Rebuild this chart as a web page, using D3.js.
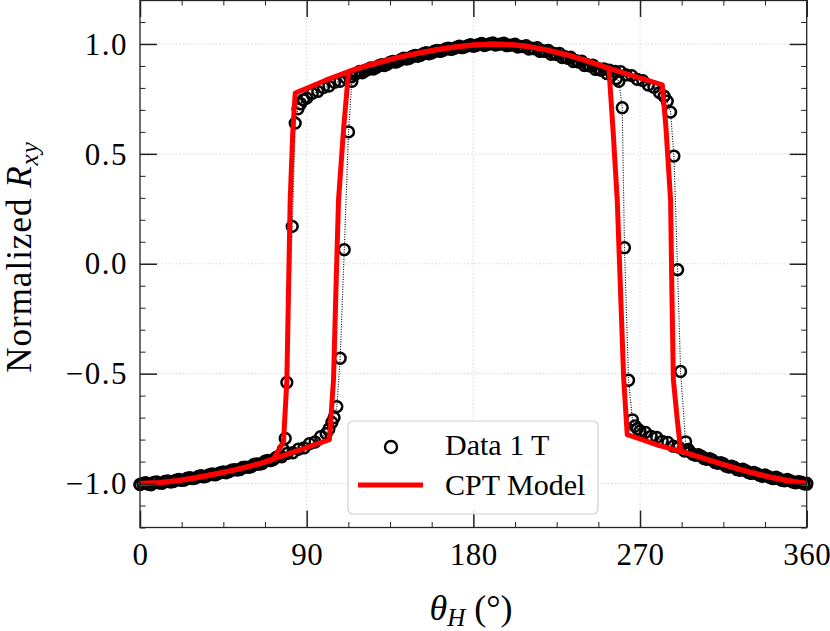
<!DOCTYPE html>
<html>
<head>
<meta charset="utf-8">
<script src="https://cdn.jsdelivr.net/npm/d3@7"></script>
<style>
  html, body { margin: 0; padding: 0; background: #fff; }
  svg text { font-family: "Liberation Serif", "DejaVu Serif", serif; fill: #000; }
</style>
</head>
<body>
<div id="chart"></div>
<script>
// ── Data ──────────────────────────────────────────────────────────────────────
// measured sweep, field angle increasing [theta (deg), normalized Rxy]
const dataUp = [
  [0,-1.004],[3,-0.996],[6,-1.006],[9,-0.993],[12,-0.999],[15,-0.988],[18,-0.991],[21,-0.981],
  [24,-0.984],[27,-0.973],[30,-0.975],[33,-0.964],[36,-0.966],[39,-0.956],[42,-0.956],[45,-0.947],
  [48,-0.946],[51,-0.937],[54,-0.936],[57,-0.925],[60,-0.924],[63,-0.911],[66,-0.909],[69,-0.895],
  [72,-0.891],[75,-0.875],[77.4,-0.845],[78.4,-0.795],[79.3,-0.54],[82.2,0.17],[83.8,0.64],
  [85.3,0.705],[86.7,0.728],[88.2,0.746],[90,0.754],[93,0.775],[96,0.784],[99,0.802],[102,0.808],
  [105,0.825],[108,0.830],[111,0.847],[114,0.850],[117,0.866],[120,0.869],[123,0.884],[126,0.886],
  [129,0.901],[132,0.902],[135,0.916],[138,0.917],[141,0.930],[144,0.931],[147,0.943],[150,0.944],
  [153,0.956],[156,0.955],[159,0.967],[162,0.966],[165,0.977],[168,0.975],[171,0.985],[174,0.983],
  [177,0.992],[180,0.989],[183,0.998],[186,0.993],[189,1.001],[192,0.995],[195,1.000],[198,0.992],
  [201,0.995],[204,0.986],[207,0.988],[210,0.977],[213,0.978],[216,0.966],[219,0.966],[222,0.953],
  [225,0.952],[228,0.938],[231,0.935],[234,0.920],[237,0.917],[240,0.902],[243,0.899],[246,0.884],
  [249,0.880],[252,0.865],[255,0.858],[257.2,0.842],[258.6,0.83],[260.4,0.71],[261.6,0.073],
  [263.8,-0.53],[265.9,-0.71],[267.3,-0.738],[268.6,-0.750],[270,-0.761],[273,-0.767],[276,-0.785],
  [279,-0.790],[282,-0.808],[285,-0.813],[288,-0.830],[291,-0.835],[294,-0.852],[297,-0.856],
  [300,-0.872],[303,-0.875],[306,-0.890],[309,-0.893],[312,-0.908],[315,-0.910],[318,-0.925],
  [321,-0.927],[324,-0.940],[327,-0.941],[330,-0.954],[333,-0.955],[336,-0.967],[339,-0.967],
  [342,-0.978],[345,-0.978],[348,-0.988],[351,-0.987],[354,-0.997],[357,-0.994],[360,-1.003]
];

// measured sweep, field angle decreasing
const dataDown = [
  [360,-0.998],[358.5,-1.001],[355.5,-0.991],[352.5,-0.993],[349.5,-0.981],[346.5,-0.985],
  [343.5,-0.971],[340.5,-0.974],[337.5,-0.961],[334.5,-0.962],[331.5,-0.949],[328.5,-0.950],
  [325.5,-0.935],[322.5,-0.937],[319.5,-0.921],[316.5,-0.921],[313.5,-0.905],[310.5,-0.904],
  [307.5,-0.887],[304.5,-0.886],[301.5,-0.869],[298.5,-0.867],[296,-0.845],[294.6,-0.81],
  [291.9,-0.49],[290.3,-0.027],[288.3,0.49],[286.5,0.69],[284.7,0.74],[283,0.762],[280.5,0.779],
  [277.5,0.803],[274.5,0.813],[271.5,0.833],[268.5,0.839],[265.5,0.856],[262.5,0.859],[259.5,0.874],
  [256.5,0.875],[253.5,0.881],[250.5,0.887],[247.5,0.888],[244.5,0.904],[241.5,0.906],[238.5,0.922],
  [235.5,0.924],[232.5,0.940],[229.5,0.942],[226.5,0.957],[223.5,0.957],[220.5,0.971],[217.5,0.970],
  [214.5,0.983],[211.5,0.981],[208.5,0.992],[205.5,0.989],[202.5,0.999],[199.5,0.995],[196.5,1.004],
  [193.5,0.998],[190.5,1.005],[187.5,0.997],[184.5,1.002],[181.5,0.993],[178.5,0.997],[175.5,0.987],
  [172.5,0.990],[169.5,0.979],[166.5,0.981],[163.5,0.970],[160.5,0.971],[157.5,0.959],[154.5,0.960],
  [151.5,0.948],[148.5,0.948],[145.5,0.935],[142.5,0.935],[139.5,0.922],[136.5,0.921],[133.5,0.908],
  [130.5,0.906],[127.5,0.893],[124.5,0.891],[121.5,0.877],[118.5,0.875],[116,0.862],[114.4,0.83],
  [112.6,0.60],[110.3,0.064],[108.1,-0.43],[106.3,-0.65],[104.8,-0.70],[103.6,-0.722],[102,-0.752],
  [100.5,-0.773],[97.5,-0.787],[94.5,-0.811],[91.5,-0.819],[88.5,-0.838],[85.5,-0.844],[82.5,-0.860],
  [79.5,-0.863],[76.5,-0.878],[73.5,-0.881],[70.5,-0.896],[67.5,-0.898],[64.5,-0.912],[61.5,-0.913],
  [58.5,-0.926],[55.5,-0.927],[52.5,-0.939],[49.5,-0.939],[46.5,-0.951],[43.5,-0.950],[40.5,-0.961],
  [37.5,-0.959],[34.5,-0.970],[31.5,-0.968],[28.5,-0.978],[25.5,-0.976],[22.5,-0.986],[19.5,-0.984],
  [16.5,-0.993],[13.5,-0.990],[10.5,-0.998],[7.5,-0.995],[4.5,-1.003],[1.5,-0.999],[0,-1.005]
];

// CPT model, both sweep directions
const modelUp = [
  [0,-1.000],[10,-0.996],[20,-0.987],[30,-0.974],[40,-0.958],[50,-0.940],[60,-0.920],[66,-0.906],
  [72,-0.889],[77.5,-0.81],[79.3,-0.53],[80.2,-0.12],[81.1,0.29],[82.5,0.60],[83.8,0.776],
  [86,0.785],[90,0.798],[100,0.834],[112.6,0.874],[120,0.895],[130,0.918],[140,0.940],[150,0.958],
  [160,0.974],[170,0.986],[180,0.995],[190,1.000],[200,0.998],[210,0.988],[220,0.972],[230,0.951],
  [240,0.926],[253.2,0.889],[255.5,0.60],[257.7,0.29],[261.2,-0.527],[263.1,-0.777],[270,-0.797],
  [280,-0.826],[292,-0.853],[300,-0.874],[310,-0.900],[320,-0.926],[330,-0.950],[340,-0.970],
  [350,-0.987],[360,-1.000]
];

const modelDown = [
  [360,-1.000],[350,-0.987],[340,-0.970],[330,-0.950],[320,-0.926],[310,-0.900],[300,-0.874],
  [292,-0.853],[290,-0.70],[288,-0.527],[287.2,-0.12],[286.5,0.29],[284,0.62],[282,0.814],
  [253.2,0.889],[240,0.926],[230,0.951],[220,0.972],[210,0.988],[200,0.998],[190,1.000],[180,0.995],
  [170,0.986],[160,0.974],[150,0.958],[140,0.940],[130,0.918],[120,0.895],[112.6,0.874],[110,0.62],
  [107.2,0.29],[105.8,-0.12],[104.5,-0.527],[102.3,-0.80],[72,-0.889],[66,-0.906],[60,-0.920],
  [50,-0.940],[40,-0.958],[30,-0.974],[20,-0.987],[10,-0.996],[0,-1.000]
];

const xTicks = [0, 90, 180, 270, 360];
const yTicks = [-1.0, -0.5, 0.0, 0.5, 1.0];
const legendLabels = ['Data 1 T', 'CPT Model'];

// ── Chart ─────────────────────────────────────────────────────────────────────
function renderChart(container) {
  const W = 830;
  const H = 631;
  const margin = { top: 0, right: 23.3, bottom: 103.5, left: 140 };
  const innerW = W - margin.left - margin.right;
  const innerH = H - margin.top - margin.bottom;

  const xScale = d3.scaleLinear().domain([0, 360]).range([0, innerW]);
  const yScale = d3.scaleLinear().domain([-1.2, 1.2]).range([innerH, 0]);

  const svg = d3.select(container)
    .append('svg')
    .attr('width', W)
    .attr('height', H);

  const g = svg.append('g')
    .attr('transform', `translate(${margin.left},${margin.top})`);

  // Gridlines
  g.append('g')
    .selectAll('line')
    .data(xTicks.slice(1, -1))
    .join('line')
    .attr('x1', d => xScale(d)).attr('x2', d => xScale(d))
    .attr('y1', 0).attr('y2', innerH);
  g.append('g')
    .selectAll('line')
    .data(yTicks)
    .join('line')
    .attr('x1', 0).attr('x2', innerW)
    .attr('y1', d => yScale(d)).attr('y2', d => yScale(d));
  g.selectAll('g line')
    .attr('stroke', '#cfcfcf')
    .attr('stroke-width', 1)
    .attr('stroke-dasharray', '1.2,2.4');

  // Measured data: dotted connector + open circles
  const line = d3.line()
    .x(d => xScale(d[0]))
    .y(d => yScale(d[1]));

  [dataUp, dataDown].forEach(series => {
    g.append('path')
      .datum(series)
      .attr('fill', 'none')
      .attr('stroke', '#000')
      .attr('stroke-width', 1.1)
      .attr('stroke-dasharray', '1,1.5')
      .attr('d', line);
  });

  g.append('g')
    .selectAll('circle')
    .data(dataUp.concat(dataDown))
    .join('circle')
    .attr('cx', d => xScale(d[0]))
    .attr('cy', d => yScale(d[1]))
    .attr('r', 5.4)
    .attr('fill', 'none')
    .attr('stroke', '#000')
    .attr('stroke-width', 2.5);

  // Model
  [modelUp, modelDown].forEach(series => {
    g.append('path')
      .datum(series)
      .attr('fill', 'none')
      .attr('stroke', '#ff0000')
      .attr('stroke-width', 5)
      .attr('stroke-linejoin', 'round')
      .attr('d', line);
  });

  // Axes: inward ticks on all four sides
  const minorX = d3.range(0, 361, 22.5).filter(v => !xTicks.includes(v));
  const minorY = d3.range(-12, 13, 1).map(v => v / 10).filter(v => v % 0.5 !== 0);

  const styleAxis = (ax, width) => {
    ax.select('.domain').remove();
    ax.selectAll('line').attr('stroke', '#222').attr('stroke-width', width);
  };

  const addAxis = (axisFn, scale, values, size, fmt, transform, width) => {
    const ax = g.append('g')
      .attr('transform', transform)
      .call(axisFn(scale).tickValues(values).tickSize(-size).tickPadding(22).tickFormat(fmt))
      .call(a => styleAxis(a, width));
    return ax;
  };

  const bottomAx = addAxis(d3.axisBottom, xScale, xTicks, 17, d3.format('d'), `translate(0,${innerH})`, 1.5);
  addAxis(d3.axisBottom, xScale, minorX, 5.5, '', `translate(0,${innerH})`, 1);
  addAxis(d3.axisTop, xScale, xTicks, 17, '', 'translate(0,0)', 1.5);
  addAxis(d3.axisTop, xScale, minorX, 5.5, '', 'translate(0,0)', 1);
  const leftAx = addAxis(d3.axisLeft, yScale, yTicks, 17, d3.format('.1f'), 'translate(0,0)', 1.5);
  addAxis(d3.axisLeft, yScale, minorY, 5.5, '', 'translate(0,0)', 1);
  addAxis(d3.axisRight, yScale, yTicks, 17, '', `translate(${innerW},0)`, 1.5);
  addAxis(d3.axisRight, yScale, minorY, 5.5, '', `translate(${innerW},0)`, 1);

  bottomAx.selectAll('text')
    .attr('dy', null)
    .attr('y', 37)
    .style('font-size', '31px')
    .style('letter-spacing', '0.5px')
    .style('font-family', '"Liberation Serif", serif');
  leftAx.selectAll('text')
    .attr('dy', '0.33em')
    .attr('x', -12)
    .style('font-size', '31px')
    .style('letter-spacing', '1.5px')
    .style('font-family', '"Liberation Serif", serif');

  // Frame
  g.append('rect')
    .attr('x', 0).attr('y', 0.5)
    .attr('width', innerW).attr('height', innerH - 0.5)
    .attr('fill', 'none')
    .attr('stroke', '#222')
    .attr('stroke-width', 1.3);

  // Legend
  const lg = svg.append('g').attr('transform', 'translate(348,421)');
  lg.append('rect')
    .attr('width', 250).attr('height', 93)
    .attr('rx', 5)
    .attr('fill', '#fff').attr('fill-opacity', 0.85)
    .attr('stroke', '#d0d0d0').attr('stroke-width', 1.2);
  lg.append('circle')
    .attr('cx', 43).attr('cy', 26).attr('r', 6)
    .attr('fill', 'none').attr('stroke', '#000').attr('stroke-width', 2.4);
  lg.append('line')
    .attr('x1', 10).attr('x2', 75).attr('y1', 64).attr('y2', 64)
    .attr('stroke', '#ff0000').attr('stroke-width', 5);
  lg.selectAll('text.lab')
    .data(legendLabels)
    .join('text')
    .attr('class', 'lab')
    .attr('x', 97)
    .attr('y', (d, i) => 34 + i * 40)
    .style('font-size', '30px')
    .text(d => d);

  // Axis labels
  const xl = svg.append('text')
    .attr('x', 471).attr('y', 620)
    .attr('text-anchor', 'middle')
    .style('font-size', '36px');
  xl.append('tspan').style('font-style', 'italic').text('θ');
  xl.append('tspan').style('font-style', 'italic').style('font-size', '25px').attr('dy', 6).text('H');
  xl.append('tspan').attr('dy', -6).text(' (°)');

  const yl = svg.append('text')
    .attr('transform', 'translate(31,257) rotate(-90)')
    .attr('text-anchor', 'middle')
    .style('font-size', '35px')
    .style('letter-spacing', '1px');
  yl.append('tspan').text('Normalized ');
  yl.append('tspan').style('font-style', 'italic').text('R');
  yl.append('tspan').style('font-style', 'italic').style('font-size', '25px').attr('dy', 7).text('xy');
}

renderChart(document.getElementById('chart'));
</script>
</body>
</html>
